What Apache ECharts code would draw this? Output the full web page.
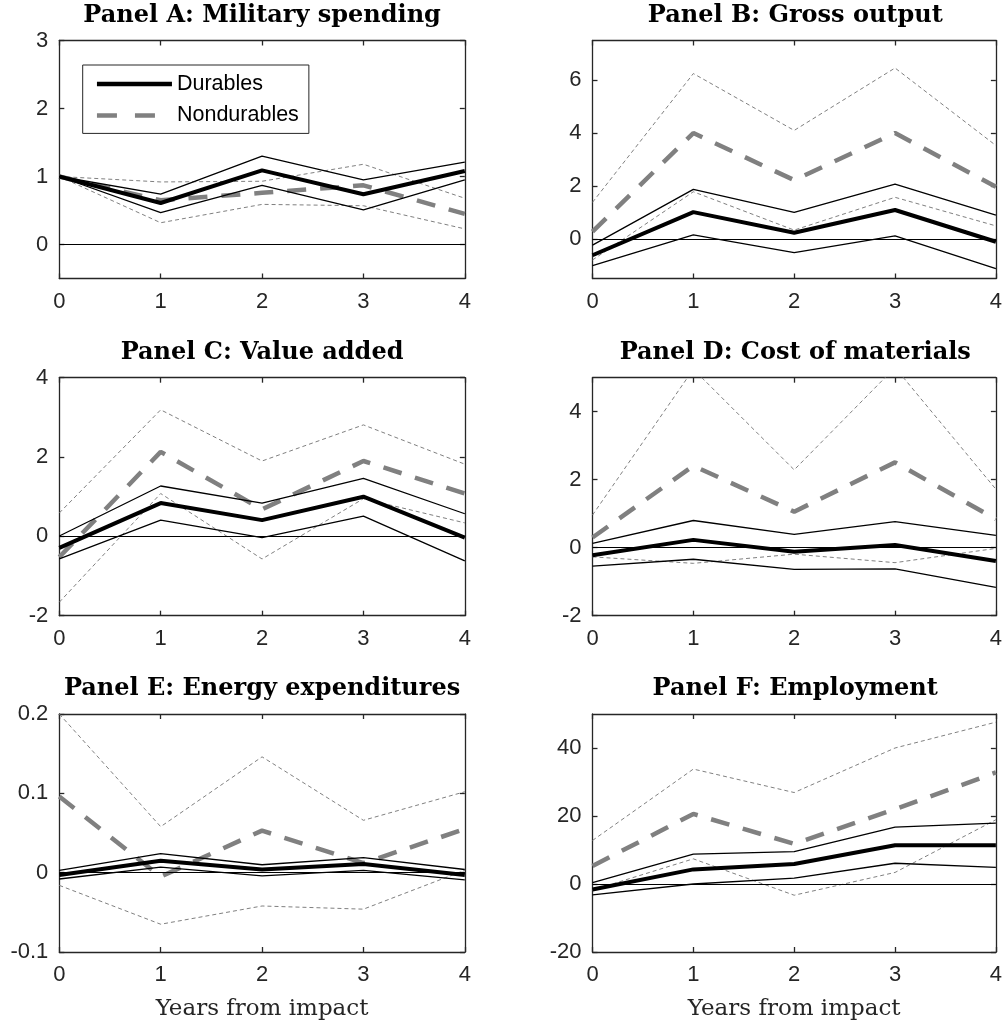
<!DOCTYPE html>
<html>
<head>
<meta charset="utf-8">
<script src="https://cdn.jsdelivr.net/npm/echarts@6/dist/echarts.min.js"></script>
<style>
  html, body { margin: 0; padding: 0; background: #fff; }
  #chart { width: 1005px; height: 1025px; }
</style>
</head>
<body>
<div id="chart"></div>
<script>
// Horizon (years after the shock)
const years = [0, 1, 2, 3, 4];
const xTicks = [0, 1, 2, 3, 4];

// Panel A: Military spending
const milDur   = [1.00, 0.61, 1.09, 0.74, 1.08];
const milDurHi = [1.00, 0.74, 1.30, 0.95, 1.21];
const milDurLo = [1.00, 0.47, 0.87, 0.51, 0.95];
const milNon   = [1.00, 0.65, 0.76, 0.87, 0.45];
const milNonHi = [1.00, 0.92, 0.93, 1.18, 0.68];
const milNonLo = [1.00, 0.32, 0.59, 0.57, 0.23];
const yTicksA  = [0, 1, 2, 3];

// Panel B: Gross output
const outDur   = [-0.62, 1.01, 0.23, 1.09, -0.11];
const outDurHi = [-0.24, 1.87, 1.00, 2.07, 0.90];
const outDurLo = [-1.01, 0.15, -0.52, 0.11, -1.13];
const outNon   = [0.27, 4.00, 2.22, 4.00, 1.97];
const outNonHi = [1.38, 6.25, 4.10, 6.46, 3.53];
const outNonLo = [-0.80, 1.78, 0.33, 1.57, 0.49];
const yTicksB  = [0, 2, 4, 6];

// Panel C: Value added
const vaDur   = [-0.29, 0.84, 0.41, 1.00, -0.03];
const vaDurHi = [0.01, 1.27, 0.84, 1.46, 0.57];
const vaDurLo = [-0.57, 0.41, -0.03, 0.51, -0.62];
const vaNon   = [-0.52, 2.13, 0.68, 1.90, 1.08];
const vaNonHi = [0.59, 3.19, 1.90, 2.81, 1.82];
const vaNonLo = [-1.66, 1.08, -0.57, 0.95, 0.34];
const yTicksC = [-2, 0, 2, 4];

// Panel D: Cost of materials
const matDur   = [-0.22, 0.23, -0.12, 0.08, -0.39];
const matDurHi = [0.13, 0.80, 0.39, 0.77, 0.36];
const matDurLo = [-0.54, -0.34, -0.64, -0.62, -1.17];
const matNon   = [0.30, 2.41, 1.06, 2.51, 0.84];
const matNonHi = [0.96, 5.25, 2.29, 5.30, 1.72];
const matNonLo = [-0.27, -0.46, -0.19, -0.44, -0.02];
const yTicksD  = [-2, 0, 2, 4];

// Panel E: Energy expenditures
const enDur   = [-0.003, 0.015, 0.004, 0.011, -0.003];
const enDurHi = [0.003, 0.024, 0.010, 0.019, 0.004];
const enDurLo = [-0.008, 0.007, -0.004, 0.003, -0.009];
const enNon   = [0.096, -0.005, 0.053, 0.012, 0.055];
const enNonHi = [0.200, 0.058, 0.146, 0.066, 0.102];
const enNonLo = [-0.016, -0.065, -0.042, -0.046, 0.003];
const yTicksE = [-0.1, 0, 0.1, 0.2];

// Panel F: Employment
const empDur   = [-1.6, 4.3, 5.9, 11.4, 11.4];
const empDurHi = [0.4, 8.8, 9.5, 16.7, 17.9];
const empDurLo = [-3.2, 0.0, 1.7, 6.1, 4.9];
const empNon   = [5.3, 20.6, 11.8, 22.0, 32.8];
const empNonHi = [12.8, 33.8, 26.9, 40.0, 47.6];
const empNonLo = [-1.8, 7.4, -3.3, 3.4, 18.9];
const yTicksF  = [-20, 0, 20, 40];

const panels = [
  { title: 'Panel A: Military spending',   ymin: -0.5, ymax: 3,   ticks: yTicksA,
    dur: milDur, durHi: milDurHi, durLo: milDurLo, non: milNon, nonHi: milNonHi, nonLo: milNonLo },
  { title: 'Panel B: Gross output',        ymin: -1.5, ymax: 7.5, ticks: yTicksB,
    dur: outDur, durHi: outDurHi, durLo: outDurLo, non: outNon, nonHi: outNonHi, nonLo: outNonLo },
  { title: 'Panel C: Value added',         ymin: -2,   ymax: 4,   ticks: yTicksC,
    dur: vaDur, durHi: vaDurHi, durLo: vaDurLo, non: vaNon, nonHi: vaNonHi, nonLo: vaNonLo },
  { title: 'Panel D: Cost of materials',   ymin: -2,   ymax: 5,   ticks: yTicksD,
    dur: matDur, durHi: matDurHi, durLo: matDurLo, non: matNon, nonHi: matNonHi, nonLo: matNonLo },
  { title: 'Panel E: Energy expenditures', ymin: -0.1, ymax: 0.2, ticks: yTicksE,
    dur: enDur, durHi: enDurHi, durLo: enDurLo, non: enNon, nonHi: enNonHi, nonLo: enNonLo },
  { title: 'Panel F: Employment',          ymin: -20,  ymax: 50,  ticks: yTicksF,
    dur: empDur, durHi: empDurHi, durLo: empDurLo, non: empNon, nonHi: empNonHi, nonLo: empNonLo }
];

// Layout of the 3x2 grid of axes
const colLeft = [59.3, 592.5];
const rowTop = [40.5, 377.7, 714];
const plotW = 405.5;
const plotH = 238;

const AXIS_COLOR = '#262626';
const GRAY = '#808080';
const NONE = 'rgba(0,0,0,0)';
const tickFont = { fontSize: 22, fontFamily: '"Liberation Sans", Arial, sans-serif', color: AXIS_COLOR };

function pairs(vals) {
  return years.map((x, i) => [x, vals[i]]);
}

function makeAxis(min, max, ticks, position, withLabels, margin) {
  return {
    type: 'value',
    min: min,
    max: max,
    position: position,
    axisLine: { show: true, onZero: false, lineStyle: { color: AXIS_COLOR, width: 1.3 } },
    axisTick: { show: true, inside: true, length: 5, customValues: ticks,
                lineStyle: { color: AXIS_COLOR, width: 1.3 } },
    axisLabel: Object.assign({ show: withLabels, customValues: ticks, margin: margin }, tickFont),
    splitLine: { show: false }
  };
}

const grids = [], xAxes = [], yAxes = [], series = [], graphics = [];

panels.forEach((p, i) => {
  const col = i % 2, row = Math.floor(i / 2);
  const left = colLeft[col], top = rowTop[row];
  grids.push({ left: left, top: top, width: plotW, height: plotH, containLabel: false });

  const xBottom = makeAxis(0, 4, xTicks, 'bottom', true, 12);
  xBottom.gridIndex = i;
  if (row === 2) {
    xBottom.name = 'Years from impact';
    xBottom.nameLocation = 'middle';
    xBottom.nameGap = 46;
    xBottom.nameTextStyle = { fontFamily: '"DejaVu Serif", serif', fontSize: 23, color: AXIS_COLOR };
  }
  const xTop = makeAxis(0, 4, xTicks, 'top', false, 0);
  xTop.gridIndex = i;
  xAxes.push(xBottom, xTop);

  const yLeft = makeAxis(p.ymin, p.ymax, p.ticks, 'left', true, 11);
  yLeft.gridIndex = i;
  const yRight = makeAxis(p.ymin, p.ymax, p.ticks, 'right', false, 0);
  yRight.gridIndex = i;
  yAxes.push(yLeft, yRight);

  const base = { type: 'line', xAxisIndex: 2 * i, yAxisIndex: 2 * i, symbol: 'none',
                 showSymbol: false, animation: false, silent: true, clip: true };

  // Nondurables confidence band
  series.push(Object.assign({}, base, { name: 'Nondurables upper', data: pairs(p.nonHi), z: 2,
    lineStyle: { color: GRAY, width: 1, type: [4, 3] } }));
  series.push(Object.assign({}, base, { name: 'Nondurables lower', data: pairs(p.nonLo), z: 2,
    lineStyle: { color: GRAY, width: 1, type: [4, 3] } }));
  // Nondurables point estimate
  series.push(Object.assign({}, base, { name: 'Nondurables', data: pairs(p.non), z: 3,
    itemStyle: { color: GRAY },
    lineStyle: { color: GRAY, width: 4.5, type: [19, 14] } }));
  // Durables confidence band
  series.push(Object.assign({}, base, { name: 'Durables upper', data: pairs(p.durHi), z: 4,
    lineStyle: { color: '#000', width: 1.3 } }));
  series.push(Object.assign({}, base, { name: 'Durables lower', data: pairs(p.durLo), z: 4,
    lineStyle: { color: '#000', width: 1.3 } }));
  // Durables point estimate, with the zero reference line
  series.push(Object.assign({}, base, { name: 'Durables', data: pairs(p.dur), z: 5,
    itemStyle: { color: '#000' },
    lineStyle: { color: '#000', width: 4 },
    markLine: { silent: true, symbol: 'none', animation: false,
      label: { show: false },
      lineStyle: { color: '#000', width: 1, type: 'solid' },
      emphasis: { disabled: true },
      data: [{ yAxis: 0 }] } }));

  graphics.push({
    type: 'text',
    x: left + plotW / 2,
    y: top - 25,
    silent: true,
    style: {
      text: p.title,
      font: 'bold 24px "DejaVu Serif", serif',
      fill: '#000',
      align: 'center',
      verticalAlign: 'middle',
      textAlign: 'center',
      textVerticalAlign: 'middle'
    }
  });
});

const chart = echarts.init(document.getElementById('chart'), null, { renderer: 'canvas' });
chart.setOption({
  backgroundColor: '#fff',
  animation: false,
  grid: grids,
  xAxis: xAxes,
  yAxis: yAxes,
  series: series,
  graphic: graphics,
  legend: {
    show: true,
    left: 82.7,
    top: 65,
    orient: 'vertical',
    align: 'left',
    itemWidth: 75,
    itemHeight: 20,
    itemGap: 9.4,
    padding: [8, 10, 7, 12],
    borderColor: AXIS_COLOR,
    borderWidth: 1,
    backgroundColor: '#fff',
    selectedMode: false,
    textStyle: { fontSize: 21.5, fontFamily: '"Liberation Sans", Arial, sans-serif', color: '#000' },
    data: [
      { name: 'Durables',
        itemStyle: { color: NONE, borderColor: NONE, borderWidth: 0 },
        lineStyle: { color: '#000', width: 4.5, type: 'solid' } },
      { name: 'Nondurables',
        itemStyle: { color: NONE, borderColor: NONE, borderWidth: 0 },
        lineStyle: { color: GRAY, width: 4.5, type: [20, 18] } }
    ]
  }
});
</script>
</body>
</html>
